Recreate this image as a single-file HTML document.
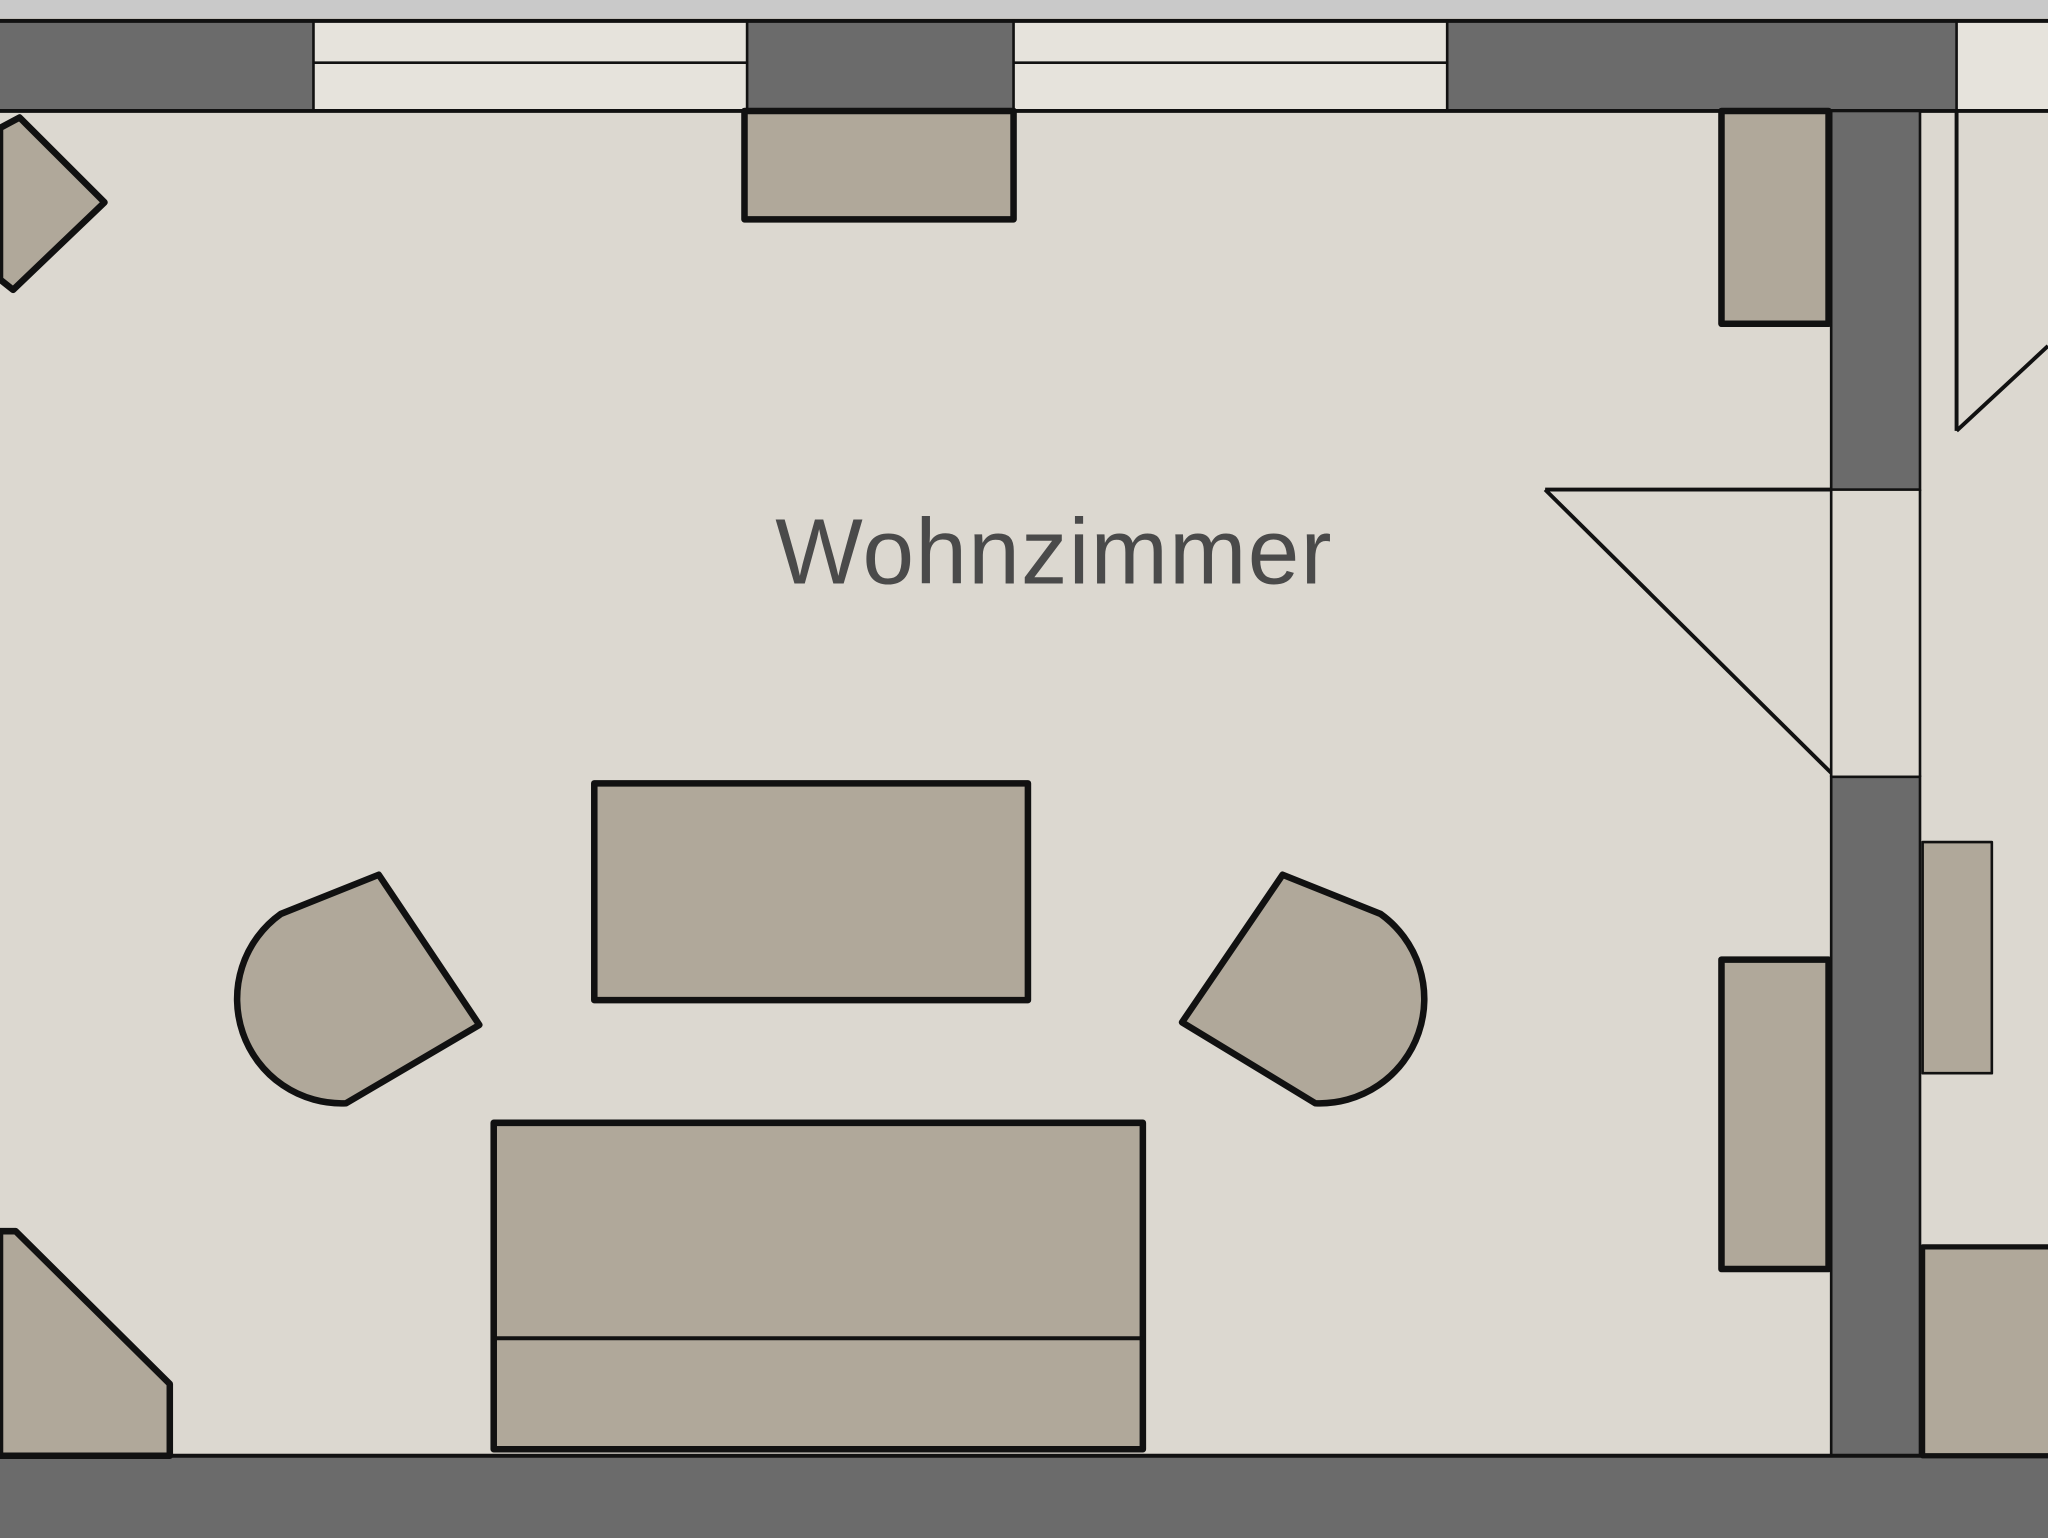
<!DOCTYPE html>
<html><head><meta charset="utf-8"><style>html,body{margin:0;padding:0;background:#dcd8d0;}svg{display:block}</style></head>
<body>
<svg width="2048" height="1538" viewBox="0 0 1568 1178" preserveAspectRatio="none" xmlns="http://www.w3.org/2000/svg">
<rect width="1568" height="1178" fill="#dcd8d0"/>
<rect x="0" y="0" width="1568" height="14" fill="#c9c9c9"/>
<rect x="0" y="15" width="1568" height="70" fill="#e6e3dc"/>
<rect x="0" y="15" width="240" height="70" fill="#6b6b6b"/>
<rect x="572" y="15" width="204" height="70" fill="#6b6b6b"/>
<rect x="1108" y="15" width="390" height="70" fill="#6b6b6b"/>
<line x1="240" y1="48" x2="572" y2="48" stroke="#111" stroke-width="2"/>
<line x1="776" y1="48" x2="1108" y2="48" stroke="#111" stroke-width="2"/>
<line x1="0" y1="16" x2="1568" y2="16" stroke="#111" stroke-width="3"/>
<line x1="0" y1="85" x2="1568" y2="85" stroke="#111" stroke-width="3"/>
<line x1="240" y1="15" x2="240" y2="85" stroke="#111" stroke-width="2"/>
<line x1="572" y1="15" x2="572" y2="85" stroke="#111" stroke-width="2"/>
<line x1="776" y1="15" x2="776" y2="85" stroke="#111" stroke-width="2"/>
<line x1="1108" y1="15" x2="1108" y2="85" stroke="#111" stroke-width="2"/>
<line x1="1498" y1="15" x2="1498" y2="85" stroke="#111" stroke-width="2"/>
<rect x="1402" y="85" width="68" height="290" fill="#6b6b6b" stroke="#111" stroke-width="2"/>
<rect x="1402" y="595" width="68" height="520" fill="#6b6b6b" stroke="#111" stroke-width="2"/>
<line x1="1402" y1="375" x2="1402" y2="595" stroke="#111" stroke-width="2"/>
<line x1="1470" y1="375" x2="1470" y2="595" stroke="#111" stroke-width="2"/>
<rect x="0" y="1115" width="1568" height="63" fill="#6b6b6b"/>
<line x1="0" y1="1115" x2="1568" y2="1115" stroke="#111" stroke-width="3"/>
<g fill="#b0a89a" stroke="#111" stroke-width="5" stroke-linejoin="round">
<polygon points="0,98 15,90 80,155 10,222 0,214"/>
<rect x="570" y="85" width="206" height="83"/>
<rect x="1318" y="85" width="82" height="163"/>
<rect x="455" y="600" width="332" height="166"/>
<path d="M290,670 L367,785 L265,845 A80,80 0 0 1 215,700 Z"/>
<path d="M982,670 L905,783 L1007,845 A80,80 0 0 0 1057,700 Z"/>
<rect x="378" y="860" width="497" height="250"/>
<polygon points="0,943 12,943 130,1060 130,1115 0,1115"/>
<rect x="1318" y="735" width="82" height="237"/>
<rect x="1472" y="645" width="53" height="177" stroke-width="2"/>
<rect x="1472" y="955" width="100" height="160" stroke-width="4"/>
</g>
<line x1="378" y1="1025" x2="875" y2="1025" stroke="#111" stroke-width="3"/>
<g stroke="#111" stroke-width="3" fill="none">
<line x1="1183" y1="375" x2="1402" y2="375"/>
<line x1="1183" y1="375" x2="1402" y2="592"/>
<line x1="1498" y1="85" x2="1498" y2="330"/>
<line x1="1498" y1="330" x2="1568" y2="265"/>
</g>
<text x="807" y="447" font-family="Liberation Sans, sans-serif" font-size="71" letter-spacing="1" fill="#4a4a4a" text-anchor="middle">Wohnzimmer</text>
</svg>
</body></html>
